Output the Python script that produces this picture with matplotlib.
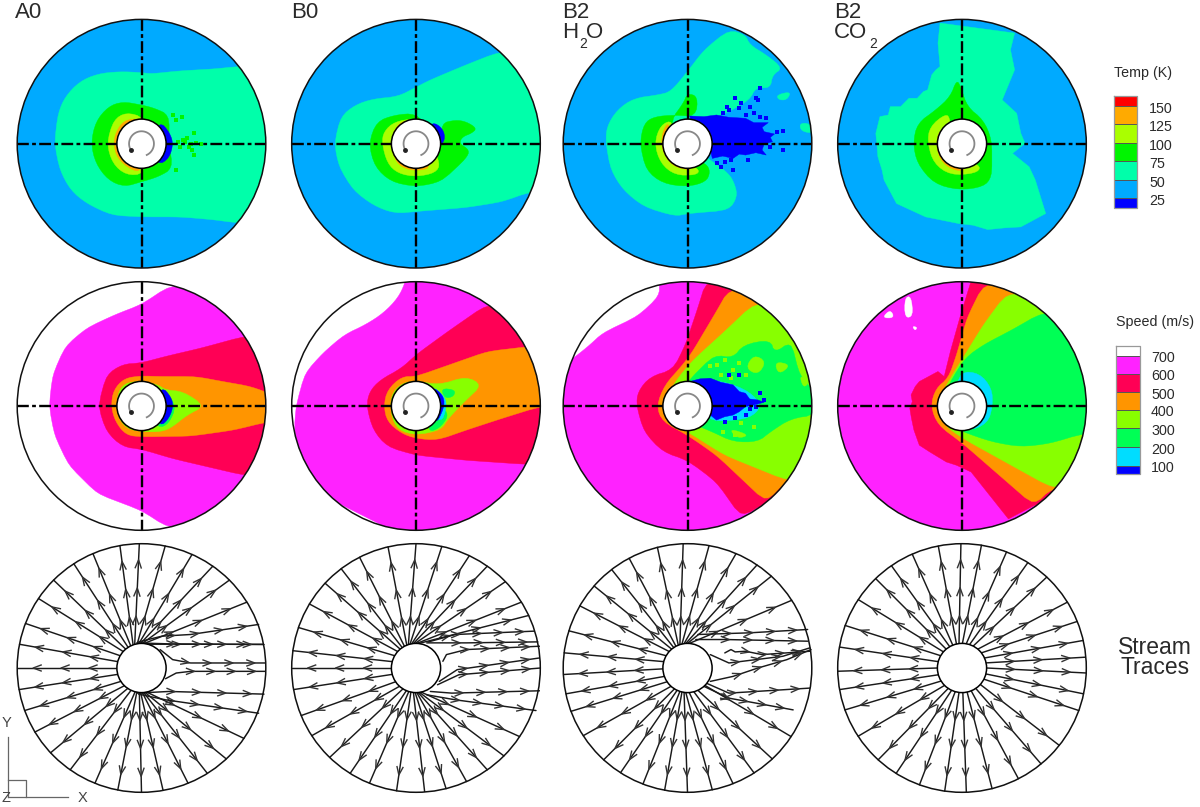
import numpy as np
import matplotlib
matplotlib.use("Agg")
import matplotlib.pyplot as plt
from matplotlib.patches import Ellipse, Polygon

plt.rcParams['font.family'] = ['Liberation Sans', 'DejaVu Sans']

# ---- colours of contour levels
C_BASE = '#00AAFF'; C_TEAL = '#00FFAA'; C_GREEN = '#00F500'; C_LIME = '#AAFF00'
C_ORANGE = '#FFAA00'; C_DBLUE = '#0000FF'
S_MAG = '#FF22FF'; S_RED = '#FF0055'; S_OR = '#FF9500'; S_LIME = '#88FF00'
S_GREEN = '#00FF55'; S_CYAN = '#00DDFF'

# ---- legends
TEMP_LABELS = ['150', '125', '100', '75', '50', '25']
TEMP_EDGES = [96, 106, 124.3, 143.3, 161, 180.3, 197.7, 207.7]
TEMP_COLORS = ['#FF0000', C_ORANGE, C_LIME, C_GREEN, C_TEAL, C_BASE, C_DBLUE]
SPEED_LABELS = ['700', '600', '500', '400', '300', '200', '100']
SPEED_EDGES = [345.7, 355.7, 374, 392.3, 410, 428.3, 447.3, 465.7, 474.3]
SPEED_COLORS = ['#FFFFFF', S_MAG, S_RED, S_OR, S_LIME, S_GREEN, S_CYAN, C_DBLUE]

# ---- temperature boundaries
T_A0_TEAL = [(660,200),(600,207),(500,213),(420,222),(393,218),(330,215),(270,222),(220,245),(180,290),(160,340),(150,430),(165,510),(195,570),(240,610),(310,645),(393,650),(500,650),(590,658),(660,668),(800,668),(800,200)]
T_A0_GREEN = [(470,345),(430,325),(393,315),(340,305),(300,320),(265,365),(252,430),(265,490),(300,540),(345,560),(393,545),(440,530),(480,505),(470,430)]
T_A0_LIME = [(400,352),(350,337),(315,360),(296,430),(312,490),(350,525),(400,522),(400,430)]
T_A0_ORANGE = [(393,355),(345,360),(322,395),(315,430),(325,475),(365,510),(393,513),(393,430)]
T_A0_BLUE = [(445,365),(470,395),(482,430),(470,475),(440,495),(400,430)]
T_A0_SPECK_X = [490,505,520,540,515,530,545,560,540,500,495,535,510,525,480,490]
T_A0_SPECK_Y = [360,352,415,400,425,432,430,432,465,440,425,450,420,440,345,510]

T_B0_TEAL = [(1390,157),(1300,195),(1200,240),(1160,262),(1110,290),(1040,297),(990,315),(950,350),(932,430),(945,500),(985,570),(1040,615),(1100,640),(1170,633),(1300,622),(1400,605),(1478,575),(1600,575),(1600,157)]
T_B0_GREEN = [(1160,340),(1100,345),(1050,365),(1028,430),(1045,500),(1090,545),(1160,560),(1230,545),(1300,475),(1310,450),(1280,430),(1290,410),(1315,400),(1330,385),(1300,365),(1270,360),(1230,370),(1235,430)]
T_B0_LIME = [(1160,355),(1100,365),(1070,395),(1065,430),(1080,490),(1110,520),(1160,530),(1215,518),(1228,490),(1200,430)]
T_B0_ORANGE = [(1140,358),(1105,375),(1088,430),(1105,490),(1140,510),(1180,510),(1200,500),(1160,430)]
T_B0_BLUE = [(1205,365),(1235,385),(1242,420),(1220,445),(1190,400)]

T_H_TEAL = [(430,90),(470,105),(480,135),(520,165),(560,205),(535,225),(530,265),(495,262),(480,300),(430,335),(385,360),(330,430),(385,480),(430,520),(445,555),(450,590),(430,630),(330,640),(300,648),(225,620),(175,570),(145,510),(133,430),(135,380),(160,330),(200,295),(260,285),(290,275),(330,215),(370,150)]
T_H_TEAL2 = [(545,285),(580,275),(570,300),(550,300)]
T_H_TEAL3 = [(600,370),(625,370),(640,400),(605,395)]
T_H_GREEN = [(330,280),(355,290),(350,350),(300,345),(250,350),(225,370),(215,430),(230,510),(270,550),(330,560),(375,545),(385,515),(375,490),(330,470),(300,430),(290,360),(320,310)]
T_H_LIME = [(295,360),(265,375),(250,430),(265,490),(300,525),(350,525),(360,510),(330,490),(290,430)]
T_H_ORANGE = [(285,362),(268,400),(268,450),(290,495),(330,510),(340,505),(290,430)]
T_H_BLUE = [(335,348),(370,350),(400,345),(430,352),(470,355),(490,368),(525,368),(510,382),(515,395),(540,402),(530,412),(535,425),(515,432),(510,450),(520,465),(495,458),(470,465),(455,462),(440,475),(415,468),(390,475),(385,450),(385,431),(350,400)]
T_H_SPECK_X = [500,430,560,460,490,425,445,505,470,400,410,440,415,455,480,505,520,545,560,530,435,475,495,420]
T_H_SPECK_Y = [300,330,450,310,340,320,295,265,345,490,500,510,340,325,320,350,355,395,392,440,480,480,295,485]

T_C_TEAL = [(935,70),(1115,100),(1105,150),(1115,210),(1095,270),(1085,300),(1120,340),(1130,400),(1140,430),(1110,460),(1150,500),(1165,540),(1190,640),(1130,680),(1090,683),(1050,688),(1015,675),(980,670),(940,660),(900,650),(865,630),(830,610),(815,575),(800,540),(795,510),(785,470),(783,440),(780,400),(790,350),(810,345),(815,320),(840,320),(860,295),(880,295),(895,275),(905,270),(915,225),(925,210),(935,200),(930,130)]
T_C_GREEN = [(975,240),(985,260),(1000,320),(1040,360),(1060,420),(1060,530),(1040,560),(980,570),(920,550),(880,490),(870,430),(880,370),(925,330),(960,290)]
T_C_LIME = [(950,340),(910,380),(905,430),(920,490),(960,525),(1020,520),(1035,500),(1000,480),(960,430),(960,360)]
T_C_ORANGE = [(935,385),(925,430),(935,480),(965,510),(1000,512),(970,480)]

# ---- speed boundaries
S_A0_MAG = [(470,35),(393,90),(320,120),(240,160),(180,215),(145,300),(135,393),(150,480),(190,570),(270,655),(393,705),(465,755),(800,755),(800,35)]
S_A0_RED = [(680,185),(560,220),(460,245),(390,265),(340,268),(295,300),(272,393),(295,470),(340,515),(393,522),(480,550),(680,600),(800,600),(800,185)]
S_A0_OR = [(760,360),(700,335),(620,320),(545,305),(440,305),(393,303),(345,310),(315,345),(308,393),(320,440),(350,480),(393,485),(530,483),(650,465),(745,440),(800,440),(800,360)]
S_A0_LIME = [(460,345),(510,350),(570,393),(520,420),(480,455),(450,470),(393,470),(350,460),(325,420),(325,360),(345,325),(393,318),(440,330)]
S_A0_GREEN = [(460,350),(490,393),(470,445),(440,460),(400,393)]
S_A0_BLUE = [(450,335),(475,365),(482,393),(470,430),(445,455),(420,393)]

S_B0_MAG = [(1130,25),(1110,70),(1070,115),(1020,150),(960,180),(900,235),(850,295),(825,393),(820,470),(850,580),(900,660),(1160,800),(1600,800),(1600,0),(1130,0)]
S_B0_RED = [(1355,92),(1250,170),(1160,240),(1120,280),(1060,315),(1030,350),(1022,393),(1040,465),(1080,515),(1160,540),(1300,555),(1465,567),(1600,567),(1600,92)]
S_B0_OR = [(1480,215),(1360,230),(1280,260),(1160,305),(1120,305),(1080,345),(1070,393),(1080,440),(1120,475),(1160,490),(1220,495),(1300,465),(1400,430),(1505,395),(1600,395),(1600,215)]
S_B0_LIME = [(1225,330),(1300,305),(1345,330),(1300,375),(1250,430),(1230,465),(1160,480),(1110,465),(1090,420),(1090,360),(1120,325),(1160,318)]
S_B0_GREEN = [(1230,340),(1270,345),(1265,365),(1240,370)]
S_B0_GREEN2 = [(1240,400),(1250,425),(1225,460),(1195,470),(1200,430)]
S_B0_CYAN = [(1200,330),(1242,365),(1245,400),(1230,445),(1190,393)]
S_B0_BLUE = [(1205,335),(1235,360),(1240,390),(1225,430),(1215,440),(1190,393)]

S_H_MAG = [(262,25),(262,65),(210,125),(125,175),(95,210),(60,245),(0,300),(0,800),(700,800),(700,0),(262,0)]
S_H_RED = [(375,20),(355,100),(325,210),(295,285),(240,305),(210,350),(207,393),(225,470),(270,530),(330,555),(400,620),(460,725),(520,680),(700,680),(700,20)]
S_H_OR = [(430,45),(400,110),(340,235),(315,275),(275,330),(255,393),(270,440),(330,480),(400,540),(520,680),(570,615),(700,615),(700,45)]
S_H_LIME = [(490,88),(420,170),(340,260),(300,320),(270,393),(280,440),(330,470),(420,540),(570,615),(700,615),(700,88)]
S_H_GREEN = [(465,210),(530,195),(540,235),(580,200),(600,300),(630,340),(640,420),(580,430),(530,470),(500,500),(440,500),(390,470),(330,440),(300,393),(330,320),(395,240),(440,250)]
S_H_HOLE1 = [(490,240),(520,260),(500,300),(470,280)]
S_H_HOLE2 = [(540,260),(580,270),(550,300)]
S_H_HOLE3 = [(600,300),(625,320),(610,340)]
S_H_HOLE4 = [(430,460),(480,480),(450,490)]
S_H_CYAN = [(340,315),(420,320),(480,350),(510,393),(480,430),(400,440),(370,420)]
S_H_BLUE = [(335,320),(360,312),(385,310),(410,322),(440,330),(455,350),(470,355),(480,372),(500,375),(515,382),(490,390),(470,395),(455,410),(440,420),(420,425),(400,435),(385,420),(370,393)]
S_H_BSPECK_X = [505,515,480,445,420,470,495,455,430]
S_H_BSPECK_Y = [355,375,402,430,440,420,395,300,300]
S_H_LSPECK_X = [400,420,440,455,470,410,435,460,490,385,415,445]
S_H_LSPECK_Y = [270,255,285,265,300,300,310,445,455,275,470,480]

S_C_RED = [(1010,20),(985,120),(960,230),(945,305),(930,290),(915,300),(900,310),(885,320),(875,335),(865,360),(868,380),(862,400),(866,430),(872,465),(885,510),(910,530),(950,560),(975,570),(1010,590),(1100,730),(1162,690),(1400,690),(1400,20)]
S_C_OR = [(1040,30),(1000,130),(975,240),(955,310),(925,340),(912,393),(930,450),(990,505),(1162,690),(1205,637),(1400,637),(1400,30)]
S_C_LIME = [(1095,58),(1040,150),(985,260),(955,320),(925,393),(945,450),(990,490),(1205,637),(1400,637),(1400,58)]
S_C_GREEN = [(1180,115),(1110,165),(1040,210),(995,250),(960,320),(935,393),(960,450),(990,470),(1060,500),(1130,515),(1200,505),(1280,475),(1400,475),(1400,115)]
S_C_CYAN = [(985,290),(1030,295),(1060,340),(1062,393),(1050,445),(1000,470),(960,393)]
S_C_WHITE1 = [(795,130),(815,105),(825,130)]
S_C_WHITE2 = [(850,70),(865,65),(870,125),(850,130)]
S_C_WHITE3 = [(868,155),(880,158),(875,168)]

# ---- stream traces: start angle on the body, end angle on the rim (degrees)
A0_END = [91,79,66,55,45,32,11,-34.5,-47,-58,-68,-80,-90,-101,-112,-125,-137,-149,-160,-170,180,169,159,146,135,123,113,100]
A0_START = [106,100,96,92,88,84,75,-78,-82,-85,-88,-92,-95,-101,-105,-115,-124,-134,-147,-165,180,165,150,138,130,123,116,110]
A0_WAKE = [[(380,325),(470,328),(735,330)],[(385,322),(450,305),(530,300),(720,270)],[(445,345),(480,375),(530,385),(740,385)],[(460,432),(490,415),(530,410),(740,410)],[(380,475),(470,470),(735,478)],[(385,478),(460,495),(720,535)]]
B0_END = [103,90,78,64.6,55,44,32,25,-33.5,-45,-55,-66,-76,-86,-99,-112,-122,-134,-147,-157.5,-170,180,172,161,149,137,127,117]
B0_START = [112,108,104,100,96,92,88,84,-78,-82,-85,-88,-92,-96,-102,-107,-113,-122,-132,-146,-165,180,165,150,138,130,124,118]
B0_WAKE = [[(1190,325),(1300,325),(1500,322)],[(1195,322),(1270,300),(1490,290)],[(1235,380),(1245,360),(1300,345),(1505,335)],[(1225,440),(1275,405),(1505,370)],[(1220,450),(1280,420),(1508,400)],[(1200,470),(1260,475),(1505,468)],[(1190,480),(1270,495),(1495,527)]]
H_END = [104,92,80,67,56,47.6,33,-33.5,-47,-57.6,-68.5,-78.5,-90,-100.6,-111,-122.6,-132.4,-147,-159.6,-168,-177,173,162.6,150,138.7,127.6,118]
H_START = [112,108,103,98,94,90,86,-45,-65,-75,-86,-94,-98,-103,-108,-115,-122,-132,-146,-160,-178,165,150,138,130,124,118]
H_WAKE = [[(350,315),(420,315),(620,320)],[(355,300),(480,295),(620,285)],[(385,360),(430,385),(560,365),(625,340)],[(420,355),(435,345),(445,352),(470,350),(510,360),(625,350)],[(385,440),(440,425),(500,400),(570,375),(628,345)],[(375,445),(430,475),(625,460)],[(370,455),(430,490),(585,525)]]
C_END = [113.6,101,90.5,81,69,58,47,32,22,12.8,5,-2.3,-12,-20,-38.5,-50.5,-63,-76,-88,-98,-110,-122,-132.4,-146.7,-160.3,-170,-178.5,170.3,160,146.6,134,124.6]
C_START = [112,103,97,89,80,72,63,50,38,24,12,0,-14,-27,-42,-56,-68,-78,-88,-97,-106,-115,-124,-135,-148,-164,180,165,150,139,130,120]

# ---- texts
COL_LABELS = ['A0', 'B0', 'B2', 'B2']

# ---- layout (pixels of the output; reading frame of each source crop)
CX = [141.5, 416, 687.5, 962]
CY = [143.7, 406, 668]
R_PX = 124.3
HOLE = 0.198
READ_CX = [393, 1160, 330, 988]
READ_RX = [347, 347, 300, 300]
READ_CY = [431, 393, 400]
READ_RY = [372, 371, 371]
W, H = 1200, 807
TXT = '#2a2a2a'

fig = plt.figure(figsize=(W/100, H/100), dpi=100)

def panel(col, row):
    ax = fig.add_axes([(CX[col]-R_PX)/W, 1-(CY[row]+R_PX)/H, 2*R_PX/W, 2*R_PX/H])
    c, r, cy, ry = READ_CX[col], READ_RX[col], READ_CY[row], READ_RY[row]
    ax.set_xlim(c-r, c+r); ax.set_ylim(cy+ry, cy-ry); ax.axis('off')
    return ax, c, r, cy, ry

def disk(ax, c, r, cy, ry, color):
    e = Ellipse((c, cy), 2*r, 2*ry, fc=color, ec='none', zorder=0)
    ax.add_patch(e)
    return e

def rounded(pts, passes=2, maxcut=16.0):
    """Round the corners of a contour outline."""
    p = np.asarray(pts, float)
    for _ in range(passes):
        a, b = p, np.roll(p, -1, axis=0)
        d = np.maximum(np.hypot(*(b-a).T), 1e-6)
        t = np.minimum(0.25, maxcut/d)[:, None]
        out = np.empty((2*len(p), 2))
        out[0::2] = a+t*(b-a)
        out[1::2] = b-t*(b-a)
        p = out
    return p

def fields(ax, clip, layers):
    for item in layers:
        pts, col = item[0], item[1]
        shape = pts if len(item) > 2 else rounded(pts)
        p = Polygon(shape, closed=True, fc=col, ec=col, lw=0.3, zorder=1)
        ax.add_patch(p); p.set_clip_path(clip)

def finish(ax, c, r, cy, ry, cross=True):
    ax.add_patch(Ellipse((c, cy), 2*r*HOLE, 2*ry*HOLE, fc='white', ec='black', lw=1.1, zorder=3))
    ax.add_patch(Ellipse((c, cy), 2*r, 2*ry, fc='none', ec='#111111', lw=1.1, zorder=5, clip_on=False))
    if cross:
        ds = (0, (5, 1.4, 1.6, 1.4))
        for a, b in ((-1, -HOLE), (HOLE, 1)):
            ax.plot([c+a*r, c+b*r], [cy, cy], color='black', lw=1.7, ls=ds, zorder=4, clip_on=False)
            ax.plot([c, c], [cy+a*ry, cy+b*ry], color='black', lw=1.7, ls=ds, zorder=4, clip_on=False)
        t = np.radians(np.arange(-65, 215, 5))
        ax.plot(c+r*0.1*np.cos(t), cy-ry*0.1*np.sin(t), color='#888888', lw=1.3, zorder=4)
        ax.plot([c+r*0.1*np.cos(t[-1])], [cy-ry*0.1*np.sin(t[-1])], marker='o', ms=2.5, color='#222222', zorder=4)

TEMP = [
    [(T_A0_TEAL,C_TEAL),(T_A0_GREEN,C_GREEN),(T_A0_LIME,C_LIME),(T_A0_ORANGE,C_ORANGE),(T_A0_BLUE,C_DBLUE)],
    [(T_B0_TEAL,C_TEAL),(T_B0_GREEN,C_GREEN),(T_B0_LIME,C_LIME),(T_B0_ORANGE,C_ORANGE),(T_B0_BLUE,C_DBLUE)],
    [(T_H_TEAL,C_TEAL),(T_H_TEAL2,C_TEAL),(T_H_TEAL3,C_TEAL),(T_H_GREEN,C_GREEN),(T_H_LIME,C_LIME),(T_H_ORANGE,C_ORANGE),(T_H_BLUE,C_DBLUE,0)],
    [(T_C_TEAL,C_TEAL,0),(T_C_GREEN,C_GREEN),(T_C_LIME,C_LIME),(T_C_ORANGE,C_ORANGE)],
]
SPEED = [
    [(S_A0_MAG,S_MAG),(S_A0_RED,S_RED),(S_A0_OR,S_OR),(S_A0_LIME,S_LIME),(S_A0_GREEN,S_GREEN),(S_A0_BLUE,C_DBLUE)],
    [(S_B0_MAG,S_MAG),(S_B0_RED,S_RED),(S_B0_OR,S_OR),(S_B0_LIME,S_LIME),(S_B0_GREEN,S_GREEN),(S_B0_GREEN2,S_GREEN),(S_B0_CYAN,S_CYAN),(S_B0_BLUE,C_DBLUE)],
    [(S_H_MAG,S_MAG),(S_H_RED,S_RED),(S_H_OR,S_OR),(S_H_LIME,S_LIME),(S_H_GREEN,S_GREEN),(S_H_HOLE1,S_LIME),(S_H_HOLE2,S_LIME),(S_H_HOLE3,S_LIME),(S_H_HOLE4,S_LIME),(S_H_CYAN,S_CYAN),(S_H_BLUE,C_DBLUE,0)],
    [(S_C_RED,S_RED,0),(S_C_OR,S_OR),(S_C_LIME,S_LIME),(S_C_GREEN,S_GREEN),(S_C_CYAN,S_CYAN),(S_C_WHITE1,'white'),(S_C_WHITE2,'white'),(S_C_WHITE3,'white')],
]
SPEED_BASE = ['white', 'white', 'white', S_MAG]

# --- row 1 and 2
for col in range(4):
    ax, c, r, cy, ry = panel(col, 0)
    clip = disk(ax, c, r, cy, ry, C_BASE)
    fields(ax, clip, TEMP[col])
    if col == 0:
        ax.scatter(T_A0_SPECK_X, T_A0_SPECK_Y, s=5, marker='s', color=C_GREEN, lw=0, zorder=2)
    if col == 2:
        ax.scatter(T_H_SPECK_X, T_H_SPECK_Y, s=5, marker='s', color=C_DBLUE, lw=0, zorder=2)
    finish(ax, c, r, cy, ry)

    ax, c, r, cy, ry = panel(col, 1)
    clip = disk(ax, c, r, cy, ry, SPEED_BASE[col])
    fields(ax, clip, SPEED[col])
    if col == 2:
        ax.scatter(S_H_LSPECK_X, S_H_LSPECK_Y, s=6, marker='s', color=S_LIME, lw=0, zorder=2)
        ax.scatter(S_H_BSPECK_X, S_H_BSPECK_Y, s=5, marker='s', color=C_DBLUE, lw=0, zorder=2)
    finish(ax, c, r, cy, ry)

# --- row 3: stream traces
def trace(ax, pts, r, ry, fracs=(0.28, 0.56, 0.84)):
    pts = np.asarray(pts, float)
    sx, sy = r/R_PX, ry/R_PX
    px = pts/np.array([sx, sy])
    ax.plot(pts[:, 0], pts[:, 1], color='#1a1a1a', lw=1.05, zorder=2, solid_capstyle='round')
    seg = np.hypot(*np.diff(px, axis=0).T)
    cum = np.concatenate([[0], np.cumsum(seg)])
    for f in fracs:
        d = f*cum[-1]
        i = min(np.searchsorted(cum, d, side='right')-1, len(seg)-1)
        u = (px[i+1]-px[i])/seg[i]
        tip = px[i]+u*(d-cum[i])
        n = np.array([-u[1], u[0]])
        b1 = tip-8*u+3*n; b2 = tip-8*u-3*n
        chev = np.array([b1, tip, b2])*np.array([sx, sy])
        ax.plot(chev[:, 0], chev[:, 1], color='#333333', lw=1.0, zorder=2)

STREAMS = [(A0_END, A0_START, A0_WAKE), (B0_END, B0_START, B0_WAKE), (H_END, H_START, H_WAKE), (C_END, C_START, [])]
for col, (ends, starts, wake) in enumerate(STREAMS):
    ax, c, r, cy, ry = panel(col, 2)
    ax.add_patch(Ellipse((c, cy), 2*r, 2*ry, fc='white', ec='none', zorder=0))
    for e, s in zip(ends, starts):
        ae, asr = np.radians(e), np.radians(s)
        pts = [(c+r*HOLE*np.cos(asr), cy-ry*HOLE*np.sin(asr)), (c+r*np.cos(ae), cy-ry*np.sin(ae))]
        trace(ax, pts, r, ry)
    for w in wake:
        trace(ax, w, r, ry, fracs=(0.3, 0.5, 0.7, 0.9))
    finish(ax, c, r, cy, ry, cross=False)

# --- overlay with legends, labels and coordinate triad
ov = fig.add_axes([0, 0, 1, 1], zorder=10)
ov.set_xlim(0, W); ov.set_ylim(H, 0); ov.axis('off'); ov.patch.set_alpha(0)

def colorbar(x0, x1, edges, colors):
    for i, col in enumerate(colors):
        ov.bar(x0, edges[i+1]-edges[i], x1-x0, bottom=edges[i], align='edge', color=col, ec='none')
        if i:
            ov.plot([x0, x1], [edges[i]]*2, color='#555555', lw=0.7)
    ov.plot([x0, x1, x1, x0, x0], [edges[0], edges[0], edges[-1], edges[-1], edges[0]], color='#999999', lw=0.9)

colorbar(1114, 1137, TEMP_EDGES, TEMP_COLORS)
colorbar(1116, 1140, SPEED_EDGES, SPEED_COLORS)
for i, lab in enumerate(TEMP_LABELS):
    ov.text(1149, TEMP_EDGES[i+1]+3, lab, fontsize=10.3, va='center', ha='left', color=TXT)
for i, lab in enumerate(SPEED_LABELS):
    ov.text(1151, SPEED_EDGES[i+1]+2.5, lab, fontsize=10.3, va='center', ha='left', color=TXT)
ov.text(1114, 73, 'Temp (K)', fontsize=10.3, va='center', ha='left', color=TXT)
ov.text(1116, 322, 'Speed (m/s)', fontsize=10.3, va='center', ha='left', color=TXT)

for x, lab in zip((15, 291, 562, 834), COL_LABELS):
    ov.text(x, 13, lab, fontsize=16, va='center', ha='left', color=TXT)
ov.text(562, 33, 'H', fontsize=16, va='center', ha='left', color=TXT)
ov.text(579, 44, '2', fontsize=10, va='center', ha='left', color=TXT)
ov.text(586, 33, 'O', fontsize=16, va='center', ha='left', color=TXT)
ov.text(834, 33, 'CO', fontsize=16, va='center', ha='left', color=TXT)
ov.text(869, 44, '2', fontsize=10, va='center', ha='left', color=TXT)

ov.text(1155, 647, 'Stream', fontsize=16.5, va='center', ha='center', color=TXT)
ov.text(1155, 668, 'Traces', fontsize=16.5, va='center', ha='center', color=TXT)

ov.plot([8, 8], [737, 797], color='#666666', lw=0.9)
ov.plot([8, 68], [797, 797], color='#666666', lw=0.9)
ov.plot([8, 26, 26], [780, 780, 797], color='#666666', lw=0.9)
ov.text(6.5, 723, 'Y', fontsize=10.5, va='center', ha='center', color='#444444')
ov.text(82.5, 798, 'X', fontsize=10.5, va='center', ha='center', color='#444444')
ov.text(5.5, 798, 'Z', fontsize=10.5, va='center', ha='center', color='#444444')

fig.savefig('out.png', dpi=100)
